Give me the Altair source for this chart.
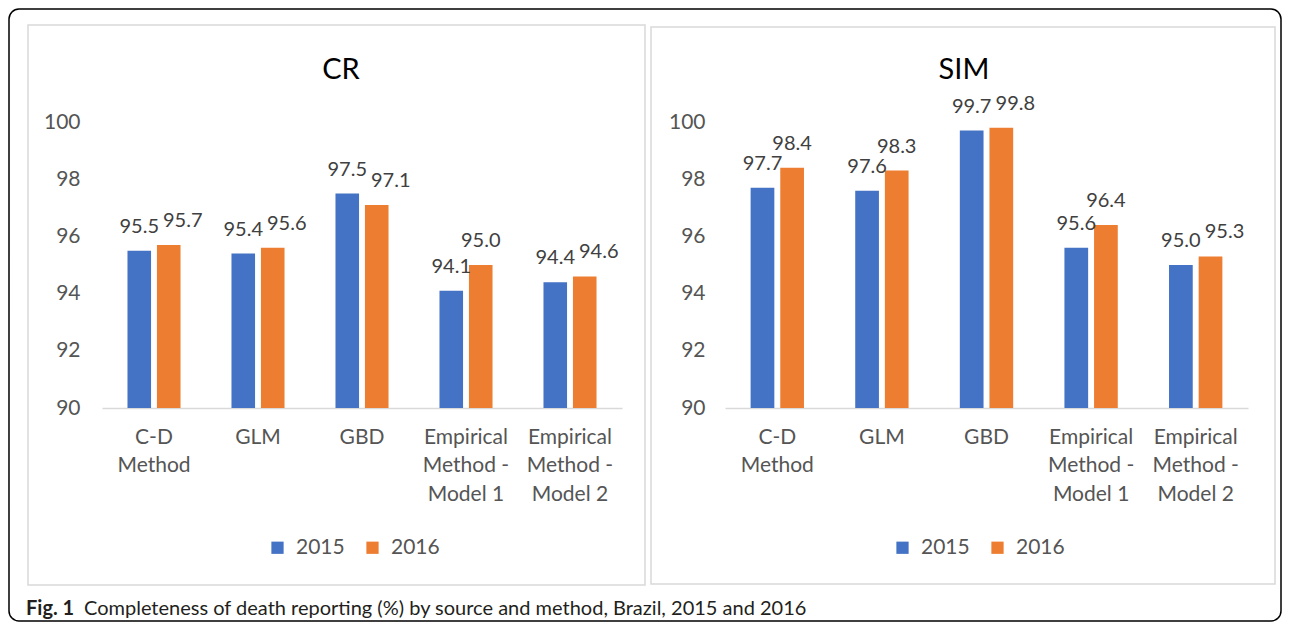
import altair as alt
import pandas as pd

# ---------------- data ----------------
categories = ["C-D Method", "GLM", "GBD", "Empirical Method - Model 1", "Empirical Method - Model 2"]
years = ["2015", "2016"]
cr_2015 = [95.5, 95.4, 97.5, 94.1, 94.4]
cr_2016 = [95.7, 95.6, 97.1, 95.0, 94.6]
sim_2015 = [97.7, 97.6, 99.7, 95.6, 95.0]
sim_2016 = [98.4, 98.3, 99.8, 96.4, 95.3]
y_ticks = [90, 92, 94, 96, 98, 100]
y_domain = [90, 100]
colors = ["#4472C4", "#ED7D31"]
caption_bold = "Fig. 1"
caption_text = "Completeness of death reporting (%) by source and method, Brazil, 2015 and 2016"

FONT = "Lato"
W, H = 1272, 612


def wrap(c):
    return c.replace(" Method", "\nMethod").replace("- ", "-\n")


wrapped = [wrap(c) for c in categories]


def make_df(v15, v16):
    rows = []
    for c, a, b in zip(wrapped, v15, v16):
        close = abs(b - a) < 0.5
        rows.append({"cat": c, "year": "2015", "value": a, "close": close})
        rows.append({"cat": c, "year": "2016", "value": b, "close": close})
    return pd.DataFrame(rows)


def panel(df, title, x0, x1, label_right, legend_x, title_x):
    x = alt.X(
        "cat:N",
        sort=wrapped,
        scale=alt.Scale(range=[x0, x1], paddingInner=0.49, paddingOuter=0.245),
        axis=alt.Axis(
            orient="bottom", offset=399 - H, title=None,
            labelExpr="split(datum.label, '\\n')",
            labelFont=FONT, labelFontSize=21, labelColor="#555555",
            labelLineHeight=28.5, labelPadding=18, labelAngle=0,
            ticks=False, domainColor="#D9D9D9", domainWidth=1.5,
            labelOverlap=False, labelLimit=300,
        ),
    )
    y = alt.Y(
        "value:Q",
        scale=alt.Scale(domain=y_domain, range=[399, 113], nice=False, zero=False),
        axis=alt.Axis(
            orient="left", offset=-(label_right + 4), title=None, values=y_ticks,
            labelFont=FONT, labelFontSize=21, labelColor="#555555",
            labelPadding=4, ticks=False, domain=False, grid=False,
        ),
    )
    xo = alt.XOffset("year:N", sort=years, scale=alt.Scale(paddingInner=0.2))
    base = alt.Chart(df)
    bars = base.mark_bar().encode(
        x=x, xOffset=xo, y=y, y2=alt.datum(y_domain[0]),
        color=alt.Color(
            "year:N",
            scale=alt.Scale(domain=years, range=colors),
            legend=alt.Legend(
                orient="none", legendX=legend_x, legendY=528, direction="horizontal",
                title=None, symbolType="square", symbolSize=150, symbolStrokeWidth=0,
                labelFont=FONT, labelFontSize=21, labelColor="#555555",
                labelOffset=8, columnPadding=17, padding=0,
            ),
        ),
    )
    lab_kw = dict(font=FONT, fontSize=20, color="#404040", baseline="middle", dy=-24)
    txt_plain = base.transform_filter(
        "datum.year == '2015' || !datum.close"
    ).mark_text(**lab_kw).encode(
        x=x, xOffset=xo, y=y, text=alt.Text("value:Q", format=".1f")
    )
    txt_shift = base.transform_filter(
        "datum.year == '2016' && datum.close"
    ).mark_text(dx=14, **lab_kw).encode(
        x=x, xOffset=xo, y=y, text=alt.Text("value:Q", format=".1f")
    )
    ttl = alt.Chart(pd.DataFrame({"t": [title]})).mark_text(
        font=FONT, fontSize=29, color="#000000", baseline="middle", align="center"
    ).encode(text="t:N", x=alt.value(title_x), y=alt.value(61))
    return alt.layer(bars, txt_plain, txt_shift, ttl)


one = pd.DataFrame({"a": [0]})
box_left = alt.Chart(one).mark_rect(fillOpacity=0, stroke="#D9D9D9", strokeWidth=1.5).encode(
    x=alt.value(19), x2=alt.value(636), y=alt.value(16), y2=alt.value(576))
box_right = alt.Chart(one).mark_rect(fillOpacity=0, stroke="#D9D9D9", strokeWidth=1.5).encode(
    x=alt.value(642), x2=alt.value(1266), y=alt.value(18), y2=alt.value(575))

cap1 = alt.Chart(pd.DataFrame({"t": [caption_bold]})).mark_text(
    font=FONT, fontSize=20, fontWeight="bold", color="#231F20", align="left", baseline="middle"
).encode(text="t:N", x=alt.value(17), y=alt.value(600))
cap2 = alt.Chart(pd.DataFrame({"t": [caption_text]})).mark_text(
    font=FONT, fontSize=20, color="#231F20", align="left", baseline="middle"
).encode(text="t:N", x=alt.value(75), y=alt.value(600))

cr = panel(make_df(cr_2015, cr_2016), "CR", 93, 613, 71, 258, 332)
sim = panel(make_df(sim_2015, sim_2016), "SIM", 716, 1239, 696, 883, 955)

chart = alt.layer(box_left, box_right, cr, sim, cap1, cap2).resolve_scale(
    x="independent", y="independent", xOffset="independent", color="independent"
).resolve_legend(color="independent").properties(
    width=W, height=H, padding=1, autosize=alt.AutoSizeParams(type="none")
).configure_view(
    stroke="#000000", strokeWidth=1.5, cornerRadius=10
)

chart.save("out.html", embed_options={"renderer": "svg", "actions": False})
